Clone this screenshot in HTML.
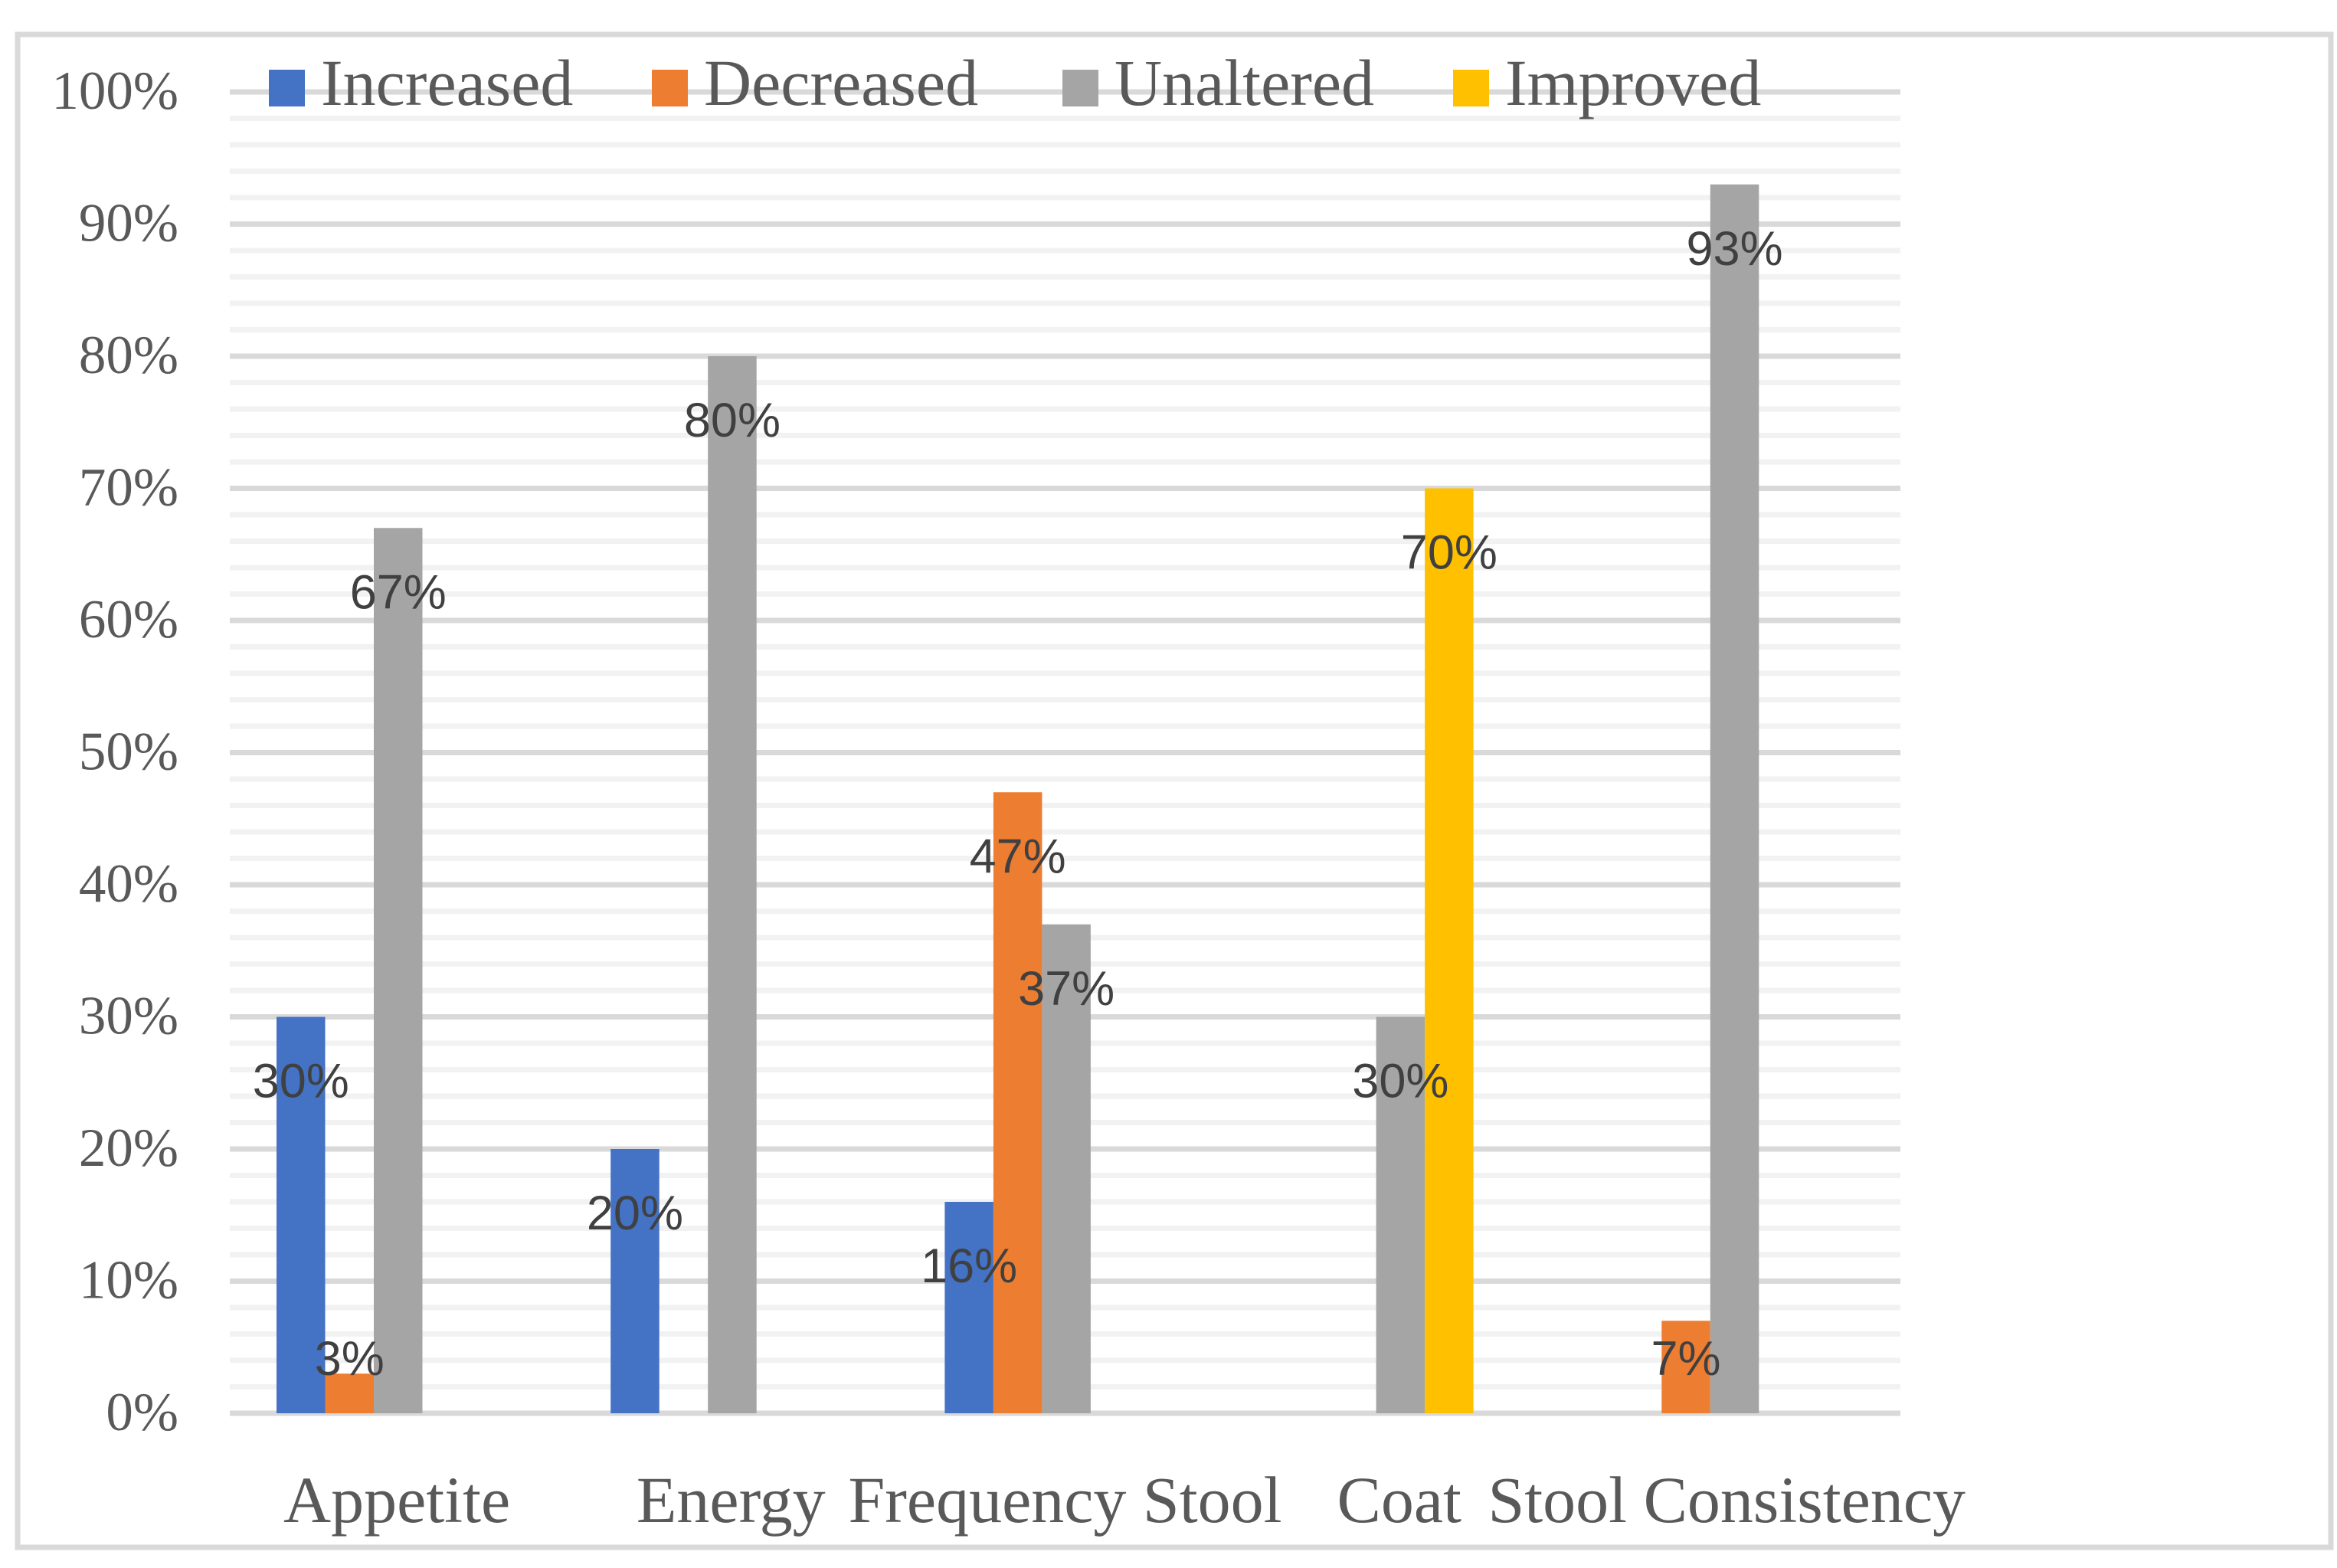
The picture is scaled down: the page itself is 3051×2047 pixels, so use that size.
<!DOCTYPE html>
<html><head><meta charset="utf-8"><style>
html,body{margin:0;padding:0;background:#fff;}
svg{display:block;}
</style></head><body>
<svg id="chart" width="3051" height="2047" viewBox="0 0 3051 2047" xmlns="http://www.w3.org/2000/svg">
<rect x="23" y="45" width="3020" height="1975" fill="#fff" stroke="#d9d9d9" stroke-width="7"/>
<g id="grid"></g>
<g id="ylabels"></g>
<g id="bars"></g>
<g id="labels"></g>
<g id="xlabels"></g>
<g id="legend"></g>
</svg>
<script>
const categories = ["Appetite","Energy","Frequency Stool","Coat","Stool Consistency"];
const seriesNames = ["Increased","Decreased","Unaltered","Improved"];
const increased = [30,20,16,0,0];
const decreased = [3,0,47,0,7];
const unaltered = [67,80,37,30,93];
const improved = [0,0,0,70,0];
const yTicks = [0,10,20,30,40,50,60,70,80,90,100];

const colors = ["#4472c4","#ed7d31","#a5a5a5","#ffc000"];
const series = [increased, decreased, unaltered, improved];
const NS = "http://www.w3.org/2000/svg";
const L = 300, R = 2481, Y0 = 1845, Y100 = 120;
const groupW = (R - L) / categories.length;
const barW = 63.5, barOff = 61;
function y(v){ return Y0 - (Y0 - Y100) * v / 100; }
function xBar(ci, si){ return L + ci*groupW + barOff + si*barW; }
function mk(tag, attrs, parent){ const e=document.createElementNS(NS,tag); for(const k in attrs) e.setAttribute(k,attrs[k]); parent.appendChild(e); return e; }

const grid = document.getElementById('grid');
for(let v=2; v<100; v+=2){
  if(v%10===0) continue;
  const l = mk('line',{x1:L,x2:R,y1:y(v),y2:y(v),stroke:'#f2f2f2','stroke-width':7},grid);
  
  
}
const yl = document.getElementById('ylabels');
yTicks.forEach(v=>{
  const l = mk('line',{x1:L,x2:R,y1:y(v),y2:y(v),stroke:'#d9d9d9','stroke-width':7},grid);
  
  
  const t = mk('text',{x:233,y:y(v)+22,'text-anchor':'end','font-family':'"Liberation Serif",serif','font-size':71,fill:'#595959'},yl);
  t.textContent = v + '%';
  
  
});

const bars = document.getElementById('bars');
const labels = document.getElementById('labels');
categories.forEach((c,ci)=>{
  series.forEach((s,si)=>{
    const v = s[ci];
    if(!v) return;
    const x = xBar(ci,si);
    const r = mk('rect',{x:x,y:y(v),width:barW,height:Y0-y(v),fill:colors[si]},bars);
    
    
    const cy = Math.min(y(v)+82, 1772);
    const t = mk('text',{x:x+barW/2,y:cy+23,'text-anchor':'middle','font-family':'"Liberation Sans",sans-serif','font-size':63,fill:'#404040'},labels);
    t.textContent = v + '%';
    
    
  });
});

const xl = document.getElementById('xlabels');
categories.forEach((c,ci)=>{
  const t = mk('text',{x:L+ci*groupW+groupW/2,y:1987,'text-anchor':'middle','font-family':'"Liberation Serif",serif','font-size':86,fill:'#595959'},xl);
  t.textContent = c;
  
  
  const w = t.getComputedTextLength();
  const cx = L+ci*groupW+groupW/2;
  if(cx + w/2 > 2566) t.setAttribute('x', 2566 - w/2);
});

const lg = document.getElementById('legend');
const legX = [351, 851, 1387, 1897];
seriesNames.forEach((n,i)=>{
  const r = mk('rect',{x:legX[i],y:91,width:47,height:48,fill:colors[i]},lg);
  
  
  const t = mk('text',{x:legX[i]+68,y:137,'font-family':'"Liberation Serif",serif','font-size':86,fill:'#595959'},lg);
  t.textContent = n;
  
  
});
</script>
</body></html>
